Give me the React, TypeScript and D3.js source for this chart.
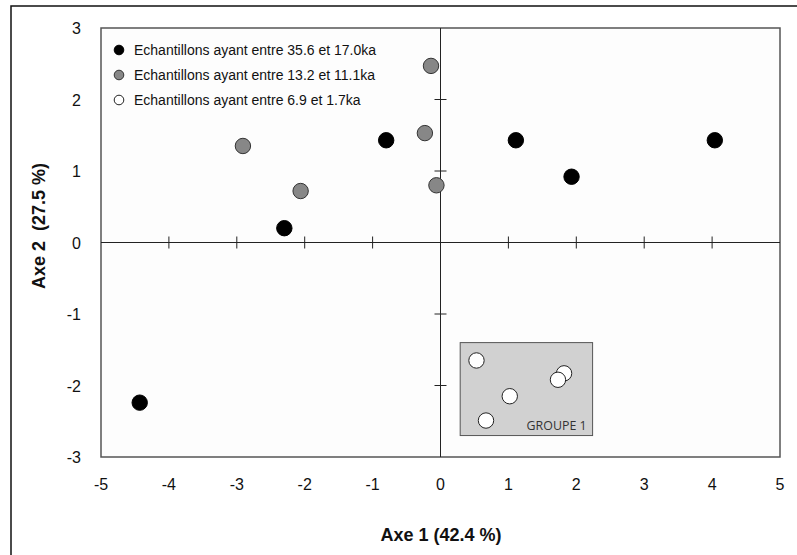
import React from "react";
import * as d3 from "d3";

const xTicks = [-5, -4, -3, -2, -1, 0, 1, 2, 3, 4, 5];
const yTicks = [-3, -2, -1, 0, 1, 2, 3];
const seriesNames = [
  "Echantillons ayant entre 35.6 et 17.0ka",
  "Echantillons ayant entre 13.2 et 11.1ka",
  "Echantillons ayant entre 6.9 et 1.7ka",
];
const blackX = [-0.8, -2.3, 1.11, 1.93, 4.04, -4.43];
const blackY = [1.43, 0.2, 1.43, 0.92, 1.43, -2.24];
const grayX = [-2.91, -2.06, -0.14, -0.23, -0.06];
const grayY = [1.35, 0.72, 2.47, 1.53, 0.8];
const whiteX = [0.53, 1.82, 1.73, 1.02, 0.67];
const whiteY = [-1.65, -1.83, -1.92, -2.15, -2.49];
const groupBox = { x0: 0.29, x1: 2.24, y0: -1.4, y1: -2.7, label: "GROUPE 1" };

const W = 797;
const H = 555;
const L = 101, R = 780, T = 28, B = 457;

export default function App() {
  const x = d3.scaleLinear().domain([-5, 5]).range([L, R]);
  const y = d3.scaleLinear().domain([-3, 3]).range([B, T]);
  const font = "Arial, 'Liberation Sans', sans-serif";
  const series = [
    { xs: blackX, ys: blackY, fill: "#000", stroke: "#000" },
    { xs: grayX, ys: grayY, fill: "#878787", stroke: "#333" },
    { xs: whiteX, ys: whiteY, fill: "#fff", stroke: "#222" },
  ];
  return (
    <svg
      width={W}
      height={H}
      style={{ position: "absolute", left: 0, top: 0, background: "#fff" }}
    >
      <rect x={11} y={6} width={W} height={H} fill="#fff" stroke="#111" strokeWidth={1.5} />
      <rect x={L} y={T} width={R - L} height={B - T} fill="#fdfdfd" stroke="#555" strokeWidth={1.5} />
      {/* zero axes */}
      <line x1={L} x2={R} y1={y(0)} y2={y(0)} stroke="#222" strokeWidth={1} />
      <line x1={x(0)} x2={x(0)} y1={T} y2={B} stroke="#222" strokeWidth={1} />
      {xTicks.filter((t) => t !== 0 && t !== -5 && t !== 5).map((t) => (
        <line key={"xt" + t} x1={x(t)} x2={x(t)} y1={y(0) - 6} y2={y(0) + 6} stroke="#222" strokeWidth={1} />
      ))}
      {yTicks.filter((t) => t !== 0 && t !== -3 && t !== 3).map((t) => (
        <line key={"yt" + t} x1={x(0) - 6} x2={x(0) + 6} y1={y(t)} y2={y(t)} stroke="#222" strokeWidth={1} />
      ))}
      {/* tick labels */}
      {xTicks.map((t) => (
        <text key={"xl" + t} x={x(t)} y={490} textAnchor="middle" fontFamily={font} fontSize={16} fill="#111">
          {t}
        </text>
      ))}
      {yTicks.map((t) => (
        <text key={"yl" + t} x={81} y={y(t) + 6} textAnchor="end" fontFamily={font} fontSize={16} fill="#111">
          {t}
        </text>
      ))}
      {/* axis titles */}
      <text x={441} y={541} textAnchor="middle" fontFamily={font} fontSize={18} fontWeight="bold" fill="#111">
        Axe 1 (42.4 %)
      </text>
      <text
        transform={`translate(45,226) rotate(-90)`}
        textAnchor="middle"
        fontFamily={font}
        fontSize={18}
        fontWeight="bold"
        fill="#111"
        style={{ whiteSpace: "pre" }}
      >
        {"Axe 2  (27.5 %)"}
      </text>
      {/* group box */}
      <rect
        x={x(groupBox.x0)}
        y={y(groupBox.y0)}
        width={x(groupBox.x1) - x(groupBox.x0)}
        height={y(groupBox.y1) - y(groupBox.y0)}
        fill="#d1d1d1"
        stroke="#555"
        strokeWidth={1}
      />
      <text
        x={x(groupBox.x1) - 6}
        y={y(groupBox.y1) - 6}
        textAnchor="end"
        fontFamily="'Open Sans', sans-serif"
        fontSize={13.5}
        textLength={60}
        lengthAdjust="spacingAndGlyphs"
        fill="#333"
      >
        {groupBox.label}
      </text>
      {/* points */}
      {series.map((s, si) =>
        s.xs.map((xv, i) => (
          <circle
            key={si + "-" + i}
            cx={x(xv)}
            cy={y(s.ys[i])}
            r={7.7}
            fill={s.fill}
            stroke={s.stroke}
            strokeWidth={1}
          />
        ))
      )}
      {/* legend */}
      {seriesNames.map((name, i) => (
        <g key={"lg" + i} transform={`translate(119,${50 + i * 25})`}>
          <circle r={4.8} fill={series[i].fill} stroke={series[i].stroke} strokeWidth={1} />
          <text x={15} y={5} fontFamily={font} fontSize={14} fill="#111">
            {name}
          </text>
        </g>
      ))}
    </svg>
  );
}
